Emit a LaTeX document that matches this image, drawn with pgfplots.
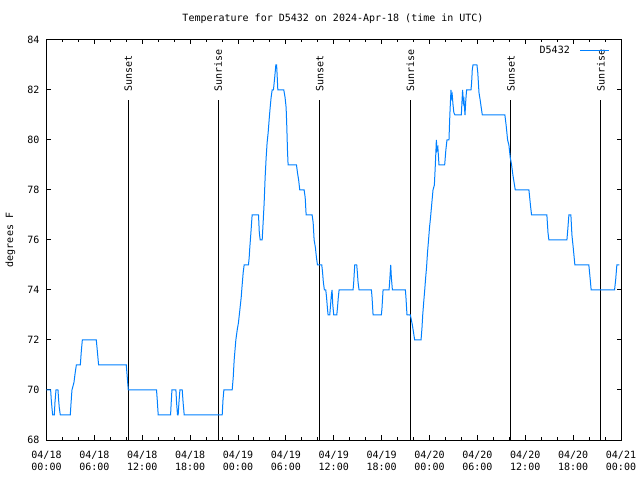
\documentclass[border=0pt]{standalone}
\usepackage{pgfplots}
\pgfplotsset{compat=1.18}
\usepackage{fontspec}
\setmainfont{DejaVu Sans Mono}
\definecolor{gblue}{RGB}{0,128,255}
\begin{document}
\fontsize{10bp}{12bp}\selectfont
\begin{tikzpicture}[font=\fontsize{10bp}{12bp}\selectfont]
\path[use as bounding box] (0,0) rectangle (640bp,480bp);
\begin{axis}[
  at={(46.5bp,40bp)}, anchor=south west,
  scale only axis, width=574.5bp, height=400bp,
  xmin=0, xmax=72, ymin=68, ymax=84,
  xtick={0,6,...,72}, minor x tick num=2,
  ytick={68,70,...,84},
  xticklabels={{04/18\\00:00},{04/18\\06:00},{04/18\\12:00},{04/18\\18:00},{04/19\\00:00},{04/19\\06:00},{04/19\\12:00},{04/19\\18:00},{04/20\\00:00},{04/20\\06:00},{04/20\\12:00},{04/20\\18:00},{04/21\\00:00}},
  xticklabel style={align=center, inner sep=0pt, yshift=-11bp},
  yticklabel style={inner sep=0pt, xshift=-7bp},
  /pgf/number format/assume math mode=true,
  tick align=inside,
  major tick length=4.5bp, minor tick length=2.5bp,
  every tick/.style={black, line width=1bp},
  axis line style={line width=1bp},
  legend plot pos=right,
  legend image code/.code={\path (0bp,0bp); \draw[#1] (10bp,0bp) -- (39bp,0bp);},
  legend style={at={(rel axis cs:1,1)}, anchor=north east, draw=none, fill=none,
    xshift=-11bp, yshift=-6bp, inner sep=0pt, nodes={inner sep=0pt}},
]
\addplot[black, line width=1bp, forget plot] coordinates {(10.24,68) (10.24,81.6)};
\addplot[black, line width=1bp, forget plot] coordinates {(21.51,68) (21.51,81.6)};
\addplot[black, line width=1bp, forget plot] coordinates {(34.25,68) (34.25,81.6)};
\addplot[black, line width=1bp, forget plot] coordinates {(45.6,68) (45.6,81.6)};
\addplot[black, line width=1bp, forget plot] coordinates {(58.2,68) (58.2,81.6)};
\addplot[black, line width=1bp, forget plot] coordinates {(69.47,68) (69.47,81.6)};
\node[rotate=90, anchor=west, inner sep=0pt] at (axis cs:10.24,81.93) {Sunset};
\node[rotate=90, anchor=west, inner sep=0pt] at (axis cs:21.51,81.93) {Sunrise};
\node[rotate=90, anchor=west, inner sep=0pt] at (axis cs:34.25,81.93) {Sunset};
\node[rotate=90, anchor=west, inner sep=0pt] at (axis cs:45.6,81.93) {Sunrise};
\node[rotate=90, anchor=west, inner sep=0pt] at (axis cs:58.2,81.93) {Sunset};
\node[rotate=90, anchor=west, inner sep=0pt] at (axis cs:69.47,81.93) {Sunrise};
\addplot[gblue, line width=1bp] coordinates {
(0,70) (0.52,70) (0.6,69.6) (0.68,69.3) (0.77,69) (0.98,69) (1.06,69.5) (1.19,70) (1.44,70) (1.52,69.6) (1.6,69.3) (1.73,69) (2.98,69) (3.08,69.5) (3.19,70) (3.44,70.3) (3.6,70.7) (3.74,71) (4.24,71) (4.35,71.5) (4.49,72) (6.24,72) (6.36,71.6) (6.53,71) (10.0,71) (10.1,70.6) (10.25,70) (13.79,70) (13.88,69.6) (14.0,69) (15.55,69) (15.63,69.5) (15.72,70) (16.22,70) (16.3,69.5) (16.42,69) (16.5,69) (16.6,69.5) (16.72,70) (17.01,70) (17.12,69.5) (17.26,69) (22.02,69) (22.12,69.6) (22.23,70) (23.27,70) (23.4,70.5) (23.52,71.2) (23.73,72) (23.9,72.4) (24.06,72.7) (24.23,73.2) (24.4,73.7) (24.52,74.2) (24.65,74.7) (24.77,75) (25.31,75) (25.4,75.3) (25.48,75.7) (25.62,76.3) (25.77,77) (26.57,77) (26.67,76.3) (26.78,76) (27.03,76) (27.15,76.7) (27.28,77.5) (27.4,78.5) (27.53,79.3) (27.65,79.9) (27.78,80.3) (27.9,80.8) (28.03,81.3) (28.15,81.7) (28.28,82) (28.44,82) (28.6,82.5) (28.74,83) (28.84,83) (28.92,82.5) (28.99,82) (29.74,82) (29.9,81.7) (30.03,81.3) (30.12,80.5) (30.2,79.6) (30.28,79) (31.33,79) (31.45,78.7) (31.6,78.4) (31.74,78) (32.29,78) (32.42,77.7) (32.54,77) (33.29,77) (33.42,76.7) (33.54,76) (33.7,75.7) (33.83,75.3) (33.96,75)
(34.5,75) (34.6,74.7) (34.7,74.3) (34.83,74) (35.0,74) (35.1,73.7) (35.2,73.3) (35.29,73) (35.5,73) (35.6,73.4) (35.7,73.8) (35.79,74) (35.88,73.4) (36.0,73) (36.38,73) (36.47,73.3) (36.57,73.7) (36.67,74) (38.42,74) (38.5,74.3) (38.63,75) (38.88,75) (38.96,74.7) (39.05,74.3) (39.17,74) (40.72,74) (40.8,73.7) (40.93,73) (41.97,73) (42.05,73.3) (42.18,74) (42.93,74) (43.0,74.3) (43.14,75) (43.22,74.5) (43.35,74) (44.98,74) (45.05,73.7) (45.18,73) (45.6,73) (45.73,72.8) (45.85,72.6) (46.0,72.3) (46.14,72) (46.94,72) (47.06,72.5) (47.15,73) (47.27,73.5) (47.4,74) (47.52,74.5) (47.63,74.9) (47.75,75.5) (47.88,76) (48.0,76.5) (48.1,76.8) (48.27,77.4) (48.44,78) (48.61,78.2) (48.73,79) (48.86,80) (48.95,79.6) (49.05,79.7) (49.19,79) (49.9,79) (50.05,79.6) (50.19,80) (50.44,80) (50.55,81) (50.69,82) (50.78,81.7) (50.85,81.8) (50.95,81.4) (51.05,81.1) (51.19,81) (51.99,81) (52.08,81.6) (52.15,82) (52.25,81.5) (52.32,81.6) (52.45,81) (52.55,81.6) (52.65,82) (53.2,82) (53.28,82.3) (53.36,82.8) (53.45,83) (53.95,83) (54.05,82.7) (54.2,81.9) (54.35,81.6) (54.48,81.3) (54.62,81) (57.45,81) (57.6,80.6) (57.79,80) (57.95,79.8) (58.12,79.3) (58.29,79) (58.45,78.6) (58.6,78.3) (58.75,78) (60.46,78) (60.65,77.4) (60.79,77) (62.71,77) (62.85,76.3) (62.96,76) (65.22,76) (65.35,76.5) (65.47,77) (65.72,77) (65.85,76.2) (66.01,75.7) (66.22,75) (67.97,75) (68.15,74.4) (68.26,74) (71.19,74) (71.33,74.4) (71.48,75) (71.81,75)
};
\addlegendentry{D5432}
\end{axis}
\node at (333bp,461bp) {Temperature for D5432 on 2024-Apr-18 (time in UTC)};
\node[rotate=90] at (10.5bp,240bp) {degrees F};
\end{tikzpicture}
\end{document}
